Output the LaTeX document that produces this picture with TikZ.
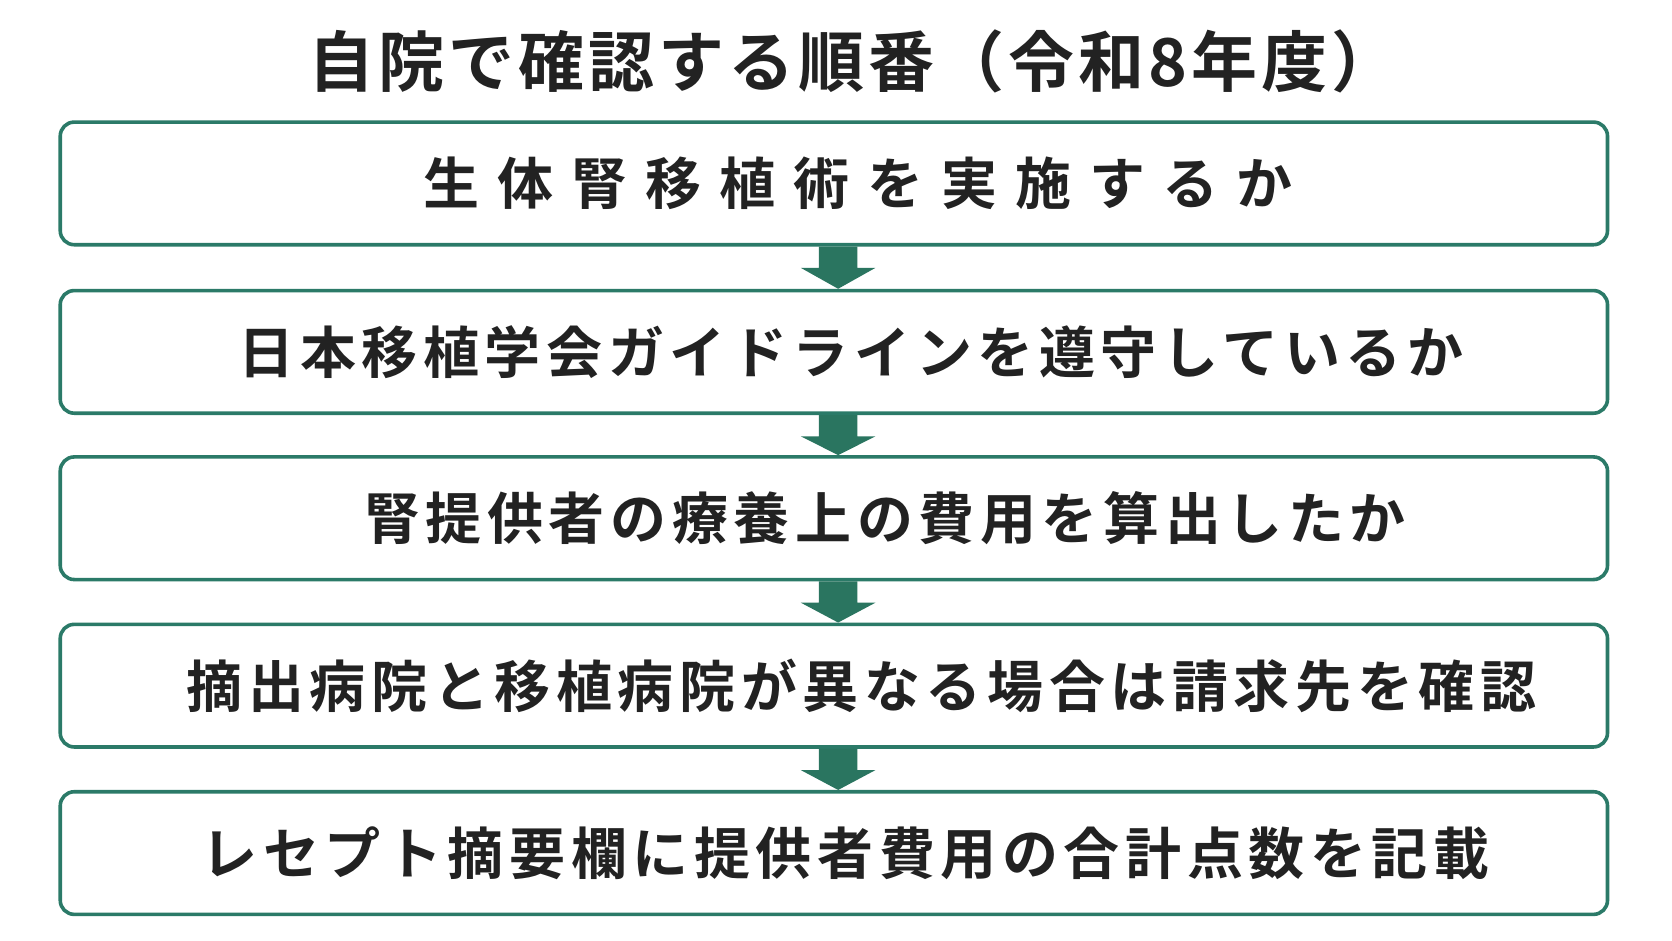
\documentclass[tikz,border=0pt]{standalone}
\usepackage{fontspec}
\usetikzlibrary{calc}
\newfontfamily\jp{Noto Sans CJK JP}[BoldFont={* Bold}]
\definecolor{gr}{HTML}{2B7A68}
\definecolor{ar}{HTML}{2A7560}
\definecolor{tx}{HTML}{222222}
\begin{document}
\begin{tikzpicture}[x=1.0663pt,y=-1.0663pt,
 box/.style={draw=gr,line width=3.6pt,rounded corners=14pt,fill=white,minimum width=1451*1.0663pt,minimum height=115*1.0663pt,inner sep=0pt},
 lbl/.style={font=\jp\bfseries\fontsize{56pt}{64pt}\selectfont,text=tx}]
\fill[white] (0,0) rectangle (1568,882);
\node[lbl,font=\jp\bfseries\fontsize{66pt}{74pt}\selectfont\addfontfeature{LetterSpace=6}] (t) at (800,58) {自院で確認する順番（令和8年度）};
\foreach \i/\y in {1/172,2/330,3/486,4/643,5/800}{
 \node[box] (b\i) at (782,\y) {};
}
\foreach \i/\j in {1/2,2/3,3/4,4/5}{
 \path ($(b\i.south)+(4,0)$) coordinate (p) ($(b\j.north)+(4,0)$) coordinate (q);
 \fill[ar] ($(p)+(-18,0)$) -- ($(p)+(-18,20)$) -- ($(p)+(-35,20)$) -- (q) -- ($(p)+(35,20)$) -- ($(p)+(18,20)$) -- ($(p)+(18,0)$) -- cycle;
}
\node[lbl] (l1) at (805,172) {\addfontfeature{LetterSpace=32}生体腎移植術を実施するか};
\node[lbl] (l2) at (798,330) {\addfontfeature{LetterSpace=10}日本移植学会ガイドラインを遵守しているか};
\node[lbl] (l3) at (830,486) {\addfontfeature{LetterSpace=10}腎提供者の療養上の費用を算出したか};
\node[lbl] (l4) at (808,643) {\addfontfeature{LetterSpace=10}摘出病院と移植病院が異なる場合は請求先を確認};
\node[lbl] (l5) at (793,800) {\addfontfeature{LetterSpace=10}レセプト摘要欄に提供者費用の合計点数を記載};
\end{tikzpicture}
\end{document}
